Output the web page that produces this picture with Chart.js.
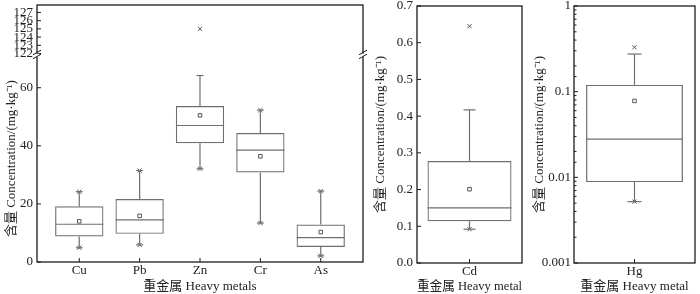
<!DOCTYPE html>
<html>
<head>
<meta charset="utf-8">
<script src="https://cdn.jsdelivr.net/npm/chart.js@4/dist/chart.umd.min.js"></script>
<style>
  html, body { margin: 0; padding: 0; background: #fff; }
  #wrap { position: relative; width: 700px; height: 294px; }
  canvas { position: absolute; top: 0; }
</style>
</head>
<body>
<div id="wrap">
  <canvas id="c1" width="368" height="294" style="left:0"></canvas>
  <canvas id="c2" width="160" height="294" style="left:368px"></canvas>
  <canvas id="c3" width="172" height="294" style="left:528px"></canvas>
</div>
<script>
// left panel: Cu, Pb, Zn, Cr, As (mg/kg)
const metals = ['Cu', 'Pb', 'Zn', 'Cr', 'As'];
const q1 = [8.8, 9.7, 40.9, 30.8, 5.2];
const median = [13.0, 14.5, 47.0, 38.5, 8.4];
const q3 = [19.2, 21.7, 53.7, 44.4, 12.9];
const whiskerLow = [4.9, 5.9, 32.1, 13.4, 2.1];
const whiskerHigh = [24.2, 31.5, 64.2, 52.3, 24.4];
const mean = [14.0, 15.9, 50.5, 36.4, 10.3];
const minVal = [4.9, 5.9, 32.1, 13.4, 2.1];
const maxVal = [24.2, 31.5, 125, 52.3, 24.4];
const lowerRange = [0, 71.2];
const upperRange = [121.8, 127.9];

// Cd
const cdLabel = ['Cd'];
const cdQ1 = [0.114], cdMedian = [0.150], cdQ3 = [0.278];
const cdLow = [0.092], cdHigh = [0.417], cdMean = [0.201];
const cdMin = [0.092], cdMax = [0.645];

// Hg
const hgLabel = ['Hg'];
const hgQ1 = [0.0088], hgMedian = [0.028], hgQ3 = [0.12];
const hgLow = [0.0052], hgHigh = [0.275], hgMean = [0.078];
const hgMin = [0.0052], hgMax = [0.33];

const yTitle = '含量 Concentration/(mg·kg⁻¹)';
const xTitleLeft = '重金属 Heavy metals';
const xTitleOne = '重金属 Heavy metal';

const boxColor = '#6f6f6f';
const markColor = '#555';
const axisColor = '#1c1c1c';

Chart.defaults.font.family = "'Liberation Serif', 'Noto Sans CJK SC', serif";
Chart.defaults.font.size = 13;
Chart.defaults.color = '#222';

const font = {size: 13, lineHeight: 1.15};

// median, whiskers and caps, placed from the bar elements and the y scale
const boxPlugin = {
  id: 'boxDetail',
  afterDatasetsDraw(chart, args, o) {
    const ctx = chart.ctx;
    const y = chart.scales.y;
    const bars = chart.getDatasetMeta(0).data;
    ctx.save();
    ctx.strokeStyle = boxColor;
    ctx.lineWidth = 1.2;
    const line = (x0, y0, x1, y1) => {
      ctx.beginPath(); ctx.moveTo(x0, y0); ctx.lineTo(x1, y1); ctx.stroke();
    };
    bars.forEach((bar, i) => {
      const half = bar.width / 2;
      const ym = y.getPixelForValue(o.median[i]);
      line(bar.x - half, ym, bar.x + half, ym);
      const yq3 = y.getPixelForValue(o.q3[i]);
      const yhi = y.getPixelForValue(o.high[i]);
      line(bar.x, yq3, bar.x, yhi);
      line(bar.x - o.cap / 2, yhi, bar.x + o.cap / 2, yhi);
      const yq1 = y.getPixelForValue(o.q1[i]);
      const ylo = y.getPixelForValue(o.low[i]);
      line(bar.x, yq1, bar.x, ylo);
      line(bar.x - o.cap / 2, ylo, bar.x + o.cap / 2, ylo);
    });
    ctx.restore();
  }
};

// closed frame, inward tick marks, axis break
const framePlugin = {
  id: 'frame',
  afterDraw(chart, args, o) {
    const {ctx, chartArea: a} = chart;
    ctx.save();
    ctx.strokeStyle = axisColor;
    ctx.lineWidth = 1.3;
    ctx.strokeRect(a.left, a.top, a.right - a.left, a.bottom - a.top);
    ctx.lineWidth = 1;
    Object.values(chart.scales).forEach(s => {
      s.ticks.forEach((t, i) => {
        const p = s.getPixelForTick(i);
        let len = 4;
        if (s.type === 'logarithmic') {
          const e = Math.log10(t.value);
          if (Math.abs(e - Math.round(e)) > 1e-6) len = 2.5;
        }
        ctx.beginPath();
        if (s.isHorizontal()) { ctx.moveTo(p, a.bottom); ctx.lineTo(p, a.bottom - len); }
        else { ctx.moveTo(a.left, p); ctx.lineTo(a.left + len, p); }
        ctx.stroke();
      });
    });
    if (o.breakScale) {
      const yb = chart.scales[o.breakScale].bottom;
      [a.left, a.right].forEach(x => {
        ctx.fillStyle = '#fff';
        ctx.fillRect(x - 2, yb - 1.5, 4, 3);
        ctx.beginPath();
        ctx.moveTo(x - 4, yb - 0.5); ctx.lineTo(x + 4, yb - 5);
        ctx.moveTo(x - 4, yb + 3.5); ctx.lineTo(x + 4, yb - 1);
        ctx.stroke();
      });
    }
    ctx.restore();
  }
};

// fixed axis sizes; drop the automatic label padding so layout.padding rules
function noPad(s) { s.paddingTop = 0; s.paddingBottom = 0; s.paddingLeft = 0; s.paddingRight = 0; }
function fixWidth(w) { return s => { s.width = w; noPad(s); }; }
function fixHeight(h) { return s => { s.height = h; noPad(s); }; }

function markers(points, style, radius, extra) {
  return Object.assign({
    type: 'scatter',
    data: points,
    pointStyle: style,
    radius: radius,
    borderColor: markColor,
    backgroundColor: '#fff',
    borderWidth: 1
  }, extra || {});
}

const baseOptions = {
  responsive: false,
  animation: false,
  events: [],
  plugins: {legend: {display: false}, tooltip: {enabled: false}}
};

// ---- left panel ----
new Chart(document.getElementById('c1'), {
  type: 'bar',
  data: {
    datasets: [
      {
        data: metals.map((m, i) => ({x: i + 1, y: [q1[i], q3[i]]})),
        backgroundColor: 'rgba(0,0,0,0)',
        borderColor: boxColor,
        borderWidth: 1.2,
        borderSkipped: false,
        barPercentage: 0.8,
        categoryPercentage: 1
      },
      markers(metals.map((m, i) => ({x: i + 1, y: mean[i]})), 'rect', 2.5),
      markers(metals.map((m, i) => ({x: i + 1, y: minVal[i]})), 'crossRot', 3),
      markers(metals.map((m, i) => ({x: i + 1, y: maxVal[i]})).filter(p => p.y <= lowerRange[1]), 'crossRot', 3),
      markers(metals.map((m, i) => ({x: i + 1, y: maxVal[i]})).filter(p => p.y >= upperRange[0]), 'crossRot', 3, {yAxisID: 'y2'})
    ]
  },
  options: Object.assign({}, baseOptions, {
    layout: {padding: {top: 1, right: 5, left: 0, bottom: 0}},
    plugins: Object.assign({}, baseOptions.plugins, {
      boxDetail: {q1: q1, q3: q3, median: median, low: whiskerLow, high: whiskerHigh, cap: 7},
      frame: {breakScale: 'y2'}
    }),
    scales: {
      x: {
        type: 'linear', min: 0.3, max: 5.7, offset: false,
        grid: {display: false, drawTicks: false}, border: {display: false},
        ticks: {stepSize: 1, includeBounds: false, padding: 1, font: font,
          callback: v => metals[v - 1] || ''},
        title: {display: true, text: xTitleLeft, font: font, padding: {top: 0, bottom: 0}},
        afterFit: fixHeight(32)
      },
      y: {
        type: 'linear', position: 'left', stack: 'left', stackWeight: 210,
        min: lowerRange[0], max: lowerRange[1],
        grid: {display: false, drawTicks: false}, border: {display: false},
        ticks: {stepSize: 20, includeBounds: false, padding: 4, font: font},
        title: {display: true, text: yTitle, font: font, padding: {top: 4.5, bottom: 0}},
        afterFit: fixWidth(37)
      },
      y2: {
        type: 'linear', position: 'left', stack: 'left', stackWeight: 51,
        min: upperRange[0], max: upperRange[1],
        grid: {display: false, drawTicks: false}, border: {display: false},
        ticks: {stepSize: 1, includeBounds: false, autoSkip: false, padding: 4, font: font},
        afterFit: fixWidth(37)
      }
    }
  }),
  plugins: [boxPlugin, framePlugin]
});

// ---- single-metal panels ----
function singlePanel(id, label, st, yScale, yw, padRight, tickPad, titlePad) {
  return new Chart(document.getElementById(id), {
    type: 'bar',
    data: {
      labels: label,
      datasets: [
        {
          data: [[st.q1[0], st.q3[0]]],
          backgroundColor: 'rgba(0,0,0,0)',
          borderColor: boxColor,
          borderWidth: 1.2,
          borderSkipped: false,
          barPercentage: 0.8,
          categoryPercentage: 1
        },
        markers([{x: label[0], y: st.mean[0]}], 'rect', 2.5),
        markers([{x: label[0], y: st.min[0]}], 'crossRot', 3),
        markers([{x: label[0], y: st.max[0]}], 'crossRot', 3)
      ]
    },
    options: Object.assign({}, baseOptions, {
      layout: {padding: {top: 6, right: padRight, left: 0, bottom: 0}},
      plugins: Object.assign({}, baseOptions.plugins, {
        boxDetail: {q1: st.q1, q3: st.q3, median: st.median, low: st.low, high: st.high, cap: st.cap},
        frame: {}
      }),
      scales: {
        x: {
          type: 'category', offset: true,
          grid: {display: false, drawTicks: false}, border: {display: false},
          ticks: {padding: 1, font: font},
          title: {display: true, text: xTitleOne, font: font, padding: {top: 0, bottom: 0}},
          afterFit: fixHeight(31)
        },
        y: Object.assign({
          position: 'left',
          grid: {display: false, drawTicks: false}, border: {display: false},
          title: {display: true, text: yTitle, font: font, padding: {top: titlePad, bottom: 0}},
          afterFit: fixWidth(yw)
        }, yScale, {ticks: Object.assign({padding: tickPad, font: font, autoSkip: false}, yScale.ticks)})
      }
    }),
    plugins: [boxPlugin, framePlugin]
  });
}

singlePanel('c2', cdLabel,
  {q1: cdQ1, q3: cdQ3, median: cdMedian, low: cdLow, high: cdHigh, mean: cdMean, min: cdMin, max: cdMax, cap: 12},
  {type: 'linear', min: 0, max: 0.7, ticks: {stepSize: 0.1, callback: v => v.toFixed(1)}},
  49, 6, 4, 5.5);

singlePanel('c3', hgLabel,
  {q1: hgQ1, q3: hgQ3, median: hgMedian, low: hgLow, high: hgHigh, mean: hgMean, min: hgMin, max: hgMax, cap: 14},
  {type: 'logarithmic', min: 0.001, max: 1, ticks: {callback: v => {
    const e = Math.log10(v);
    return Math.abs(e - Math.round(e)) < 1e-6 ? String(Number(v.toPrecision(1))) : '';
  }}},
  46, 2, 3, 4.5);
</script>
</body>
</html>
